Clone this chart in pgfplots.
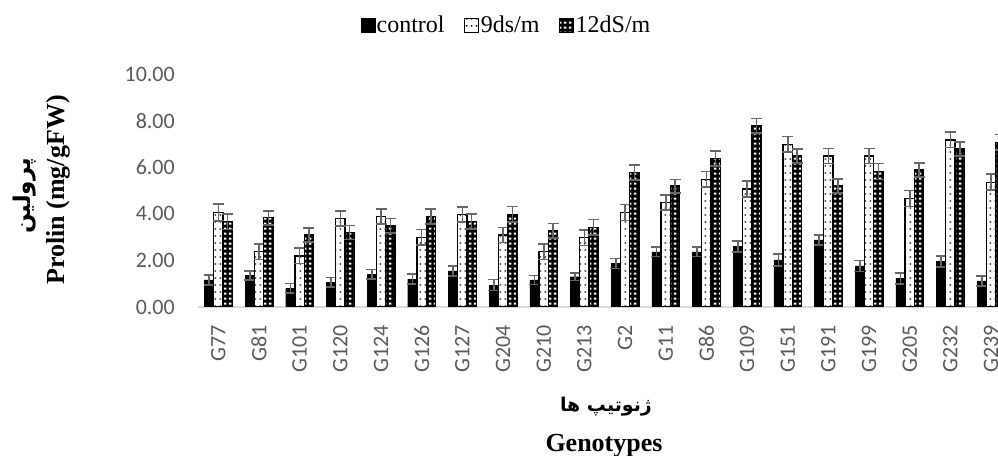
\documentclass[border=0pt]{standalone}
\usepackage{fontspec}
\setmainfont{Liberation Serif}
\newfontfamily\carlito{Carlito}
\newfontfamily\arabicfont[Script=Arabic]{DejaVu Sans}
\TeXXeTstate=1
\usepackage{pgfplots}
\usepackage{pgfplotstable}
\pgfplotsset{compat=1.18}
\usetikzlibrary{patterns.meta}
\definecolor{tickgray}{HTML}{595959}
\definecolor{axgray}{HTML}{D9D9D9}
\definecolor{errgray}{HTML}{666666}

\tikzdeclarepattern{name=dotsA, type=uncolored, bottom left={(0bp,0bp)}, top right={(4.65bp,7bp)}, tile size={(4.65bp,7bp)}, code={\fill (0.8bp,2.6bp) rectangle (2.4bp,4.2bp);}}
\tikzdeclarepattern{name=sqB, type=uncolored, bottom left={(0bp,0bp)}, top right={(4.65bp,5.4bp)}, tile size={(4.65bp,5.4bp)}, code={\fill (0.9bp,1.6bp) rectangle (3.5bp,3.6bp);}}

\pgfplotsset{sqlegend/.style={legend image code/.code={\draw[##1] (0bp,-7.5bp) rectangle (14bp,6.5bp);}}}

\pgfplotstableread{
x c ce d de s se
0 1.16 0.22 4.05 0.36 3.66 0.33
1 1.35 0.20 2.37 0.33 3.83 0.30
2 0.80 0.21 2.19 0.33 3.09 0.31
3 1.06 0.21 3.79 0.32 3.19 0.30
4 1.40 0.21 3.88 0.33 3.49 0.31
5 1.20 0.21 2.99 0.33 3.88 0.33
6 1.55 0.22 3.97 0.33 3.66 0.32
7 0.94 0.24 3.09 0.33 3.98 0.33
8 1.16 0.19 2.37 0.33 3.28 0.31
9 1.30 0.17 2.97 0.33 3.42 0.34
10 1.87 0.21 4.06 0.34 5.78 0.32
11 2.37 0.21 4.48 0.33 5.19 0.29
12 2.37 0.21 5.48 0.33 6.37 0.33
13 2.59 0.24 5.06 0.34 7.78 0.31
14 2.02 0.26 6.98 0.33 6.48 0.30
15 2.88 0.21 6.48 0.33 5.19 0.30
16 1.76 0.23 6.48 0.33 5.81 0.34
17 1.23 0.24 4.66 0.34 5.88 0.31
18 1.95 0.24 7.17 0.33 6.78 0.31
19 1.12 0.21 5.36 0.34 7.07 0.34
}\datatable

\begin{document}
\begin{tikzpicture}[x=1bp,y=1bp]
\useasboundingbox (0,0) rectangle (998,456);
\clip (0,0) rectangle (998,456);
\begin{axis}[
  at={(198bp,149bp)}, anchor=south west,
  scale only axis, width=813.4bp, height=233bp,
  xmin=-0.5, xmax=19.5, ymin=0, ymax=10,
  ybar=0pt, bar width=9.3bp,
  axis x line=bottom, axis y line=left,
  x axis line style={draw=axgray, line width=1.5bp, -},
  y axis line style={draw=none},
  major tick length=0pt,
  xtick={0,...,19},
  xticklabels={G77,G81,G101,G120,G124,G126,G127,G204,G210,G213,G2,G11,G86,G109,G151,G191,G199,G205,G232,G239},
  ytick={0,2,...,10},
  /pgf/number format/assume math mode=true,
  yticklabel={\pgfmathprintnumber[fixed,fixed zerofill,precision=2]{\tick}},
  ticklabel style={font=\carlito\fontsize{22bp}{26bp}\selectfont, text=tickgray},
  xticklabel style={rotate=90, anchor=east, inner sep=0pt, xshift=-18bp},
  yticklabel style={anchor=east, inner sep=0pt, xshift=-23bp},
  legend style={at={(0.379,1.21)}, anchor=center, draw=none, fill=none,
    font=\fontsize{24bp}{28bp}\selectfont, inner sep=0pt,
    nodes={inner sep=1.5bp},
    /tikz/every even column/.append style={column sep=18bp}},
  legend columns=3,
  error bars/y dir=both, error bars/y explicit,
  error bars/error bar style={errgray, line width=1.6bp},
  error bars/error mark options={errgray, line width=1.6bp, mark size=5.5bp, rotate=90},
]
\addplot[draw=black, fill=black, sqlegend]
  table[x=x, y=c, y error=ce] {\datatable};
\addplot[draw=black, line width=1.2bp, fill=white, postaction={pattern=dotsA, pattern color=black}, sqlegend]
  table[x=x, y=d, y error=de] {\datatable};
\addplot[draw=black, line width=1.2bp, preaction={fill=black}, pattern=sqB, pattern color=white, sqlegend]
  table[x=x, y=s, y error=se] {\datatable};
\legend{control,9ds/m,12dS/m}
\end{axis}
\node[rotate=90, font=\arabicfont\bfseries\fontsize{23bp}{28bp}\selectfont] at (25,260) {\hbox{\beginR پرولین\endR}};
\node[rotate=90, font=\bfseries\fontsize{26bp}{30bp}\selectfont] at (58,266) {Prolin (mg/gFW)};
\node[anchor=base, font=\arabicfont\bfseries\fontsize{19bp}{24bp}\selectfont] at (606,44) {\hbox{\beginR ژنوتیپ ها\endR}};
\node[anchor=base, font=\bfseries\fontsize{26bp}{30bp}\selectfont] at (604,4) {Genotypes};
\end{tikzpicture}
\end{document}
